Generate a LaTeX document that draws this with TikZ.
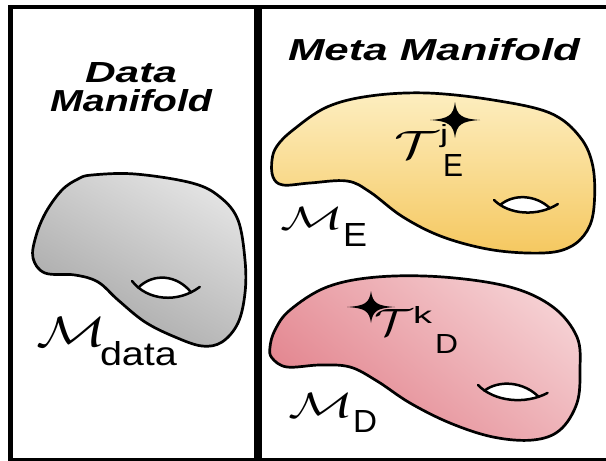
\documentclass[tikz,border=0pt]{standalone}
\usepackage{fontspec}
\usepackage{graphicx}
\newfontfamily\hv{Liberation Sans}
\definecolor{grayL}{RGB}{226,226,226}
\definecolor{grayD}{RGB}{165,165,165}
\definecolor{yelL}{RGB}{253,238,192}
\definecolor{yelD}{RGB}{245,200,96}
\definecolor{pinkL}{RGB}{245,206,209}
\definecolor{pinkD}{RGB}{226,130,140}
\tikzset{
  blob/.style={line width=2.7pt, line join=round},
  lbl/.style={inner sep=0pt, outer sep=0pt, anchor=base west},
  title/.style={inner sep=0pt, outer sep=0pt, anchor=base west, font=\hv\bfseries\itshape},
  holeline/.style={line width=2.5pt, line cap=round},
  frameline/.style={line width=4.5pt},
  divider/.style={line width=8pt},
  hole/.pic={
    \fill[white] (0.1,0.09) .. controls (0.3,-0.15) and (0.65,-0.15) .. (0.88,0.09)
                 .. controls (0.68,0.22) and (0.3,0.22) .. cycle;
    \draw[holeline] (0,0) .. controls (0.25,0.27) and (0.7,0.27) .. (1,0);
    \draw[holeline] (0.1,0.09) .. controls (0.3,-0.15) and (0.65,-0.15) .. (0.88,0.09);
  },
  sparkle/.pic={
    \fill (1,0) .. controls (0.25,-0.07) and (0.07,-0.25) .. (0,-1)
          .. controls (-0.07,-0.25) and (-0.25,-0.07) .. (-1,0)
          .. controls (-0.25,0.07) and (-0.07,0.25) .. (0,1)
          .. controls (0.07,0.25) and (0.25,0.07) .. cycle;
  }
}
\begin{document}
\begin{tikzpicture}[x=1pt,y=-1pt]
\useasboundingbox (0,0) rectangle (606,461);
\clip (0,0) rectangle (606,461);
\fill[white] (0,0) rectangle (606,461);
% frame
\draw[frameline] (620,7) -- (10.5,7) -- (10.5,460) -- (620,460);
\draw[divider] (258,7) -- (258,460);

% titles
\node[title] (tData) at (85,82) {\resizebox{92pt}{20pt}{Data}};
\node[title] (tManifold) at (50,111) {\resizebox{162pt}{22pt}{Manifold}};
\node[title] (tMeta) at (288,60) {\resizebox{292pt}{22pt}{Meta Manifold}};

% gray blob
\draw[blob, top color=grayL, bottom color=grayD, shading angle=-30]
  plot[smooth cycle, tension=0.6] coordinates {
   (92,175) (135,174) (192,183) (220,197) (238,220) (245,260) (245,293) (238,323)
   (222,342) (202,346) (175,337) (145,322) (118,300) (98,282) (75,275) (45,273)
   (33,258) (36,236) (46,212) (62,190) (78,179)};
\pic[rotate=-5, xscale=68, yscale=68] at (132,281) {hole};

% yellow blob
\draw[blob, top color=yelL, bottom color=yelD]
  plot[smooth cycle, tension=0.6] coordinates {
   (272,160) (277,146) (293,130) (327,107) (370,96) (427,93) (493,100) (550,113)
   (580,137) (593,167) (594,207) (587,231) (570,247) (543,253) (493,250) (443,237)
   (403,217) (370,192) (347,181) (310,183) (283,185) (273,177)};
\pic[rotate=-3.6, xscale=64, yscale=52] at (494,200) {hole};

% pink blob
\draw[blob, top color=pinkL, bottom color=pinkD, shading angle=-40]
  plot[smooth cycle, tension=0.6] coordinates {
   (270,347) (275,330) (290,310) (327,287) (377,277) (443,277) (510,287) (553,307)
   (577,337) (580,370) (577,403) (560,430) (533,440) (493,437) (450,423) (410,403)
   (377,381) (350,367) (320,365) (287,367) (272,358)};
\pic[rotate=-6.5, xscale=70, yscale=54] at (478,385) {hole};

% labels
\node[lbl] (Mdata) at (37,346) {\resizebox{70pt}{29pt}{$\mathcal{M}$}};
\node[lbl] (sdata) at (100,365) {\resizebox{77pt}{24pt}{\hv data}};
\node[lbl] (ME) at (280,229) {\resizebox{63pt}{22pt}{$\mathcal{M}$}};
\node[lbl] (sE) at (343,246) {\resizebox{24pt}{23pt}{\hv E}};
\node[lbl] (MD) at (288,417) {\resizebox{65pt}{24pt}{$\mathcal{M}$}};
\node[lbl] (sD) at (353,432) {\resizebox{24pt}{22pt}{\hv D}};
\node[lbl] (TE) at (394,158) {\resizebox{44pt}{27pt}{$\mathcal{T}$}};
\node[lbl] (jE) at (440,142) {\resizebox{8pt}{18pt}{\hv j}};
\node[lbl] (EE) at (443,176) {\resizebox{20pt}{22pt}{\hv E}};
\node[lbl] (TD) at (374,335) {\resizebox{38pt}{26pt}{$\mathcal{T}$}};
\node[lbl] (kD) at (413,323) {\resizebox{19pt}{17pt}{\hv k}};
\node[lbl] (DD) at (435,353) {\resizebox{23pt}{19pt}{\hv D}};

% sparkles
\pic[xscale=25, yscale=18] at (455,120) {sparkle};
\pic[xscale=24, yscale=16] at (371,307) {sparkle};
\end{tikzpicture}
\end{document}
